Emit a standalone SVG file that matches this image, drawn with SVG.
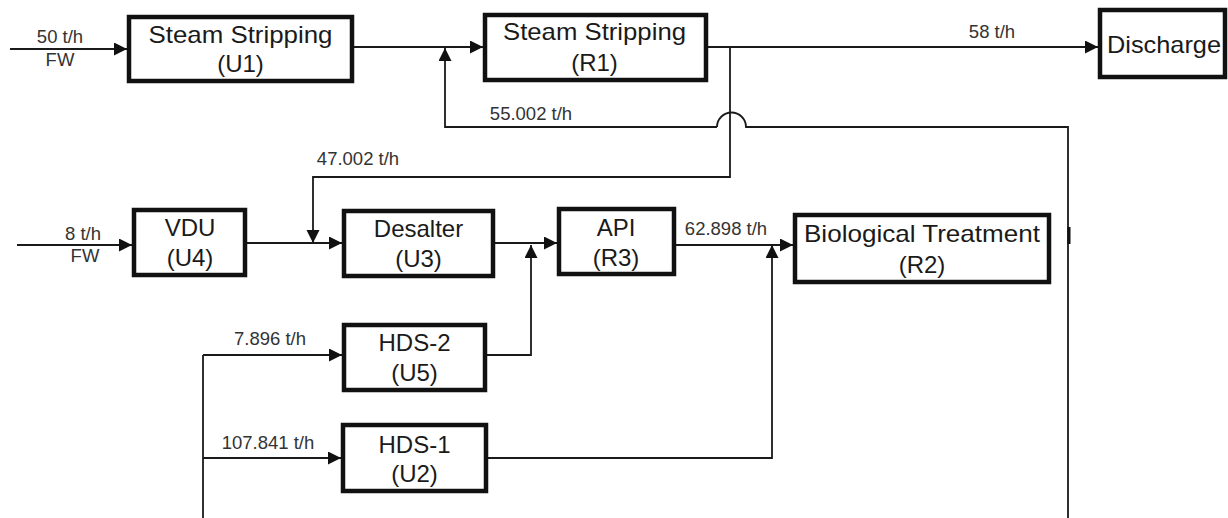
<svg xmlns="http://www.w3.org/2000/svg" width="1228" height="518" viewBox="0 0 1228 518">
<style>
.box{fill:#fff;stroke:#111;stroke-width:4.5}
.ln{fill:none;stroke:#1a1a1a;stroke-width:1.8}
.arr{marker-end:url(#ah)}
.t{font-family:"Liberation Sans",Arial,sans-serif;font-size:24px;fill:#1a1a1a;text-anchor:middle}
.s{font-family:"Liberation Sans",Arial,sans-serif;font-size:18.5px;fill:#333;text-anchor:middle}
</style>
<defs>
<marker id="ah" markerUnits="userSpaceOnUse" markerWidth="14" markerHeight="14" refX="13" refY="6.5" orient="auto">
<path d="M0,0 L13,6.5 L0,13 z" fill="#111"/>
</marker>
</defs>
<rect width="1228" height="518" fill="#fff"/>
<g id="connectors">
<line class="ln arr" x1="10" y1="49" x2="127" y2="49"/>
<line class="ln arr" x1="354" y1="47" x2="483" y2="47"/>
<polyline class="ln arr" points="717,127 445,127 445,48"/>
<path class="ln" d="M717,127 A14.5,14.5 0 0 1 746,127 L1068,127 L1068,518"/>
<line x1="1069" y1="227" x2="1069" y2="244" stroke="#111" stroke-width="3"/>
<line class="ln arr" x1="708" y1="47" x2="1098" y2="47"/>
<polyline class="ln arr" points="730,47 730,177 313,177 313,243"/>
<line class="ln arr" x1="17" y1="245" x2="132" y2="245"/>
<line class="ln arr" x1="247" y1="243" x2="342" y2="243"/>
<line class="ln arr" x1="495" y1="243" x2="557" y2="243"/>
<line class="ln arr" x1="676" y1="245" x2="793" y2="245"/>
<polyline class="ln" points="203,518 203,355"/>
<line class="ln arr" x1="203" y1="355" x2="342" y2="355"/>
<line class="ln arr" x1="203" y1="458" x2="341" y2="458"/>
<polyline class="ln arr" points="487,355 531,355 531,245"/>
<polyline class="ln arr" points="488,458 772,458 772,245"/>
<text class="s" x="60" y="43">50 t/h</text>
<text class="s" x="60" y="66">FW</text>
<text class="s" x="83" y="240">8 t/h</text>
<text class="s" x="85" y="262">FW</text>
<text class="s" x="992" y="38">58 t/h</text>
<text class="s" x="531" y="120">55.002 t/h</text>
<text class="s" x="358" y="165">47.002 t/h</text>
<text class="s" x="726" y="235">62.898 t/h</text>
<text class="s" x="270" y="345">7.896 t/h</text>
<text class="s" x="268" y="449">107.841 t/h</text>
</g>
<g id="U1">
<rect class="box" x="129" y="17" width="223" height="64"/>
<text class="t" x="240.5" y="43" textLength="184" lengthAdjust="spacingAndGlyphs">Steam Stripping</text>
<text class="t" x="240.5" y="72">(U1)</text>
</g>
<g id="R1">
<rect class="box" x="485" y="15" width="221" height="65"/>
<text class="t" x="594.5" y="40" textLength="183" lengthAdjust="spacingAndGlyphs">Steam Stripping</text>
<text class="t" x="594.5" y="71">(R1)</text>
</g>
<g id="Discharge">
<rect class="box" x="1100" y="10" width="125" height="67"/>
<text class="t" x="1164" y="53" textLength="114" lengthAdjust="spacingAndGlyphs">Discharge</text>
</g>
<g id="U4">
<rect class="box" x="134" y="210" width="111" height="65"/>
<text class="t" x="190" y="236">VDU</text>
<text class="t" x="190" y="266">(U4)</text>
</g>
<g id="U3">
<rect class="box" x="344" y="211" width="149" height="65"/>
<text class="t" x="418.5" y="237">Desalter</text>
<text class="t" x="418.5" y="267">(U3)</text>
</g>
<g id="R3">
<rect class="box" x="559" y="209" width="115" height="65"/>
<text class="t" x="616" y="236">API</text>
<text class="t" x="616" y="266">(R3)</text>
</g>
<g id="R2">
<rect class="box" x="795" y="215" width="254" height="67"/>
<text class="t" x="922" y="242" textLength="236" lengthAdjust="spacingAndGlyphs">Biological Treatment</text>
<text class="t" x="922" y="273">(R2)</text>
</g>
<g id="U5">
<rect class="box" x="344" y="325" width="141" height="65"/>
<text class="t" x="414.5" y="351">HDS-2</text>
<text class="t" x="414.5" y="381">(U5)</text>
</g>
<g id="U2">
<rect class="box" x="343" y="425" width="143" height="66"/>
<text class="t" x="414.5" y="453">HDS-1</text>
<text class="t" x="414.5" y="482">(U2)</text>
</g>
</svg>
